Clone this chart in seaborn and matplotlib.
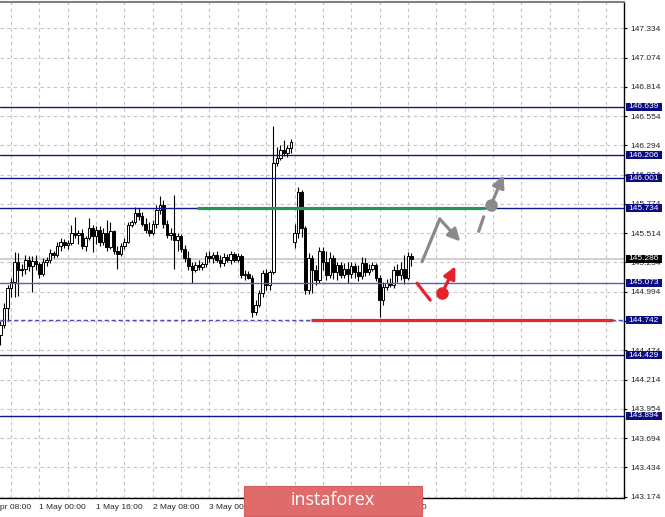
import numpy as np
import pandas as pd
import seaborn as sns
import matplotlib.pyplot as plt
import matplotlib.transforms as mtransforms
from matplotlib.patches import Rectangle

# hourly candles, bar index 0..116
opens = [144.61, 144.70, 144.85, 145.03, 145.08, 145.26, 145.19, 145.20, 145.28, 145.22,
         145.27, 145.24, 145.15, 145.26, 145.28, 145.34, 145.32, 145.40, 145.44, 145.41,
         145.43, 145.52, 145.50, 145.52, 145.40, 145.47, 145.56, 145.49, 145.54, 145.44,
         145.52, 145.39, 145.53, 145.36, 145.33, 145.40, 145.44, 145.59, 145.61, 145.69,
         145.67, 145.60, 145.54, 145.52, 145.60, 145.72, 145.76, 145.60, 145.50, 145.52,
         145.45, 145.49, 145.37, 145.29, 145.22, 145.19, 145.23, 145.21, 145.24, 145.31,
         145.29, 145.32, 145.28, 145.25, 145.30, 145.28, 145.33, 145.28, 145.31, 145.14,
         145.15, 145.12, 144.81, 144.88, 144.98, 145.16, 145.05, 145.17, 146.14, 146.18,
         146.25, 146.23, 146.27, 145.44, 145.52, 145.88, 145.56, 145.01, 145.29, 145.19,
         145.10, 145.36, 145.26, 145.14, 145.29, 145.17, 145.23, 145.14, 145.20, 145.15,
         145.22, 145.17, 145.13, 145.25, 145.17, 145.20, 145.23, 145.12, 144.92, 145.04,
         145.07, 145.05, 145.19, 145.14, 145.20, 145.12, 145.31]
highs = [144.73, 144.89, 145.05, 145.12, 145.35, 145.34, 145.24, 145.32, 145.31, 145.31,
         145.32, 145.26, 145.29, 145.30, 145.37, 145.36, 145.44, 145.47, 145.46, 145.45,
         145.59, 145.66, 145.54, 145.55, 145.49, 145.65, 145.59, 145.58, 145.58, 145.56,
         145.63, 145.61, 145.54, 145.40, 145.43, 145.47, 145.61, 145.63, 145.75, 145.74,
         145.70, 145.65, 145.61, 145.63, 145.76, 145.84, 145.81, 145.63, 145.56, 145.85,
         145.52, 145.51, 145.41, 145.36, 145.26, 145.26, 145.28, 145.26, 145.35, 145.36,
         145.35, 145.36, 145.32, 145.34, 145.33, 145.36, 145.35, 145.34, 145.33, 145.19,
         145.18, 145.14, 144.92, 145.01, 145.19, 145.20, 145.19, 146.47, 146.28, 146.30,
         146.34, 146.30, 146.35, 145.60, 145.92, 145.90, 145.58, 145.34, 145.32, 145.23,
         145.39, 145.39, 145.36, 145.35, 145.32, 145.26, 145.26, 145.25, 145.26, 145.26,
         145.25, 145.23, 145.30, 145.29, 145.24, 145.26, 145.25, 145.14, 145.08, 145.11,
         145.12, 145.22, 145.24, 145.26, 145.32, 145.35, 145.34]
lows = [144.52, 144.67, 144.73, 144.95, 144.95, 144.96, 145.13, 145.15, 145.18, 144.99,
        145.19, 145.12, 145.13, 145.22, 145.25, 145.29, 145.30, 145.36, 145.38, 145.37,
        145.41, 145.47, 145.42, 145.37, 145.36, 145.45, 145.35, 145.42, 145.40, 145.41,
        145.36, 145.37, 145.33, 145.20, 145.31, 145.37, 145.43, 145.57, 145.60, 145.63,
        145.58, 145.52, 145.49, 145.50, 145.56, 145.68, 145.56, 145.47, 145.45, 145.20,
        145.36, 145.35, 145.26, 145.19, 145.07, 145.17, 145.19, 145.19, 145.21, 145.26,
        145.25, 145.26, 145.21, 145.22, 145.26, 145.24, 145.26, 145.26, 145.12, 145.10,
        145.11, 144.77, 144.79, 144.86, 144.95, 145.01, 145.01, 145.15, 146.11, 146.16,
        146.20, 146.19, 146.23, 145.38, 145.47, 145.48, 144.97, 144.97, 144.98, 145.05,
        145.07, 145.19, 145.10, 145.12, 145.11, 145.10, 145.12, 145.12, 145.07, 145.12,
        145.12, 145.09, 145.11, 145.13, 145.14, 145.18, 145.09, 144.77, 144.88, 145.01,
        145.04, 145.03, 145.08, 145.10, 145.06, 145.10, 145.22]
closes = [144.70, 144.85, 145.03, 145.08, 145.26, 145.19, 145.20, 145.28, 145.22, 145.27,
          145.24, 145.15, 145.26, 145.28, 145.34, 145.32, 145.40, 145.44, 145.41, 145.43,
          145.52, 145.50, 145.52, 145.40, 145.47, 145.56, 145.49, 145.54, 145.44, 145.52,
          145.39, 145.53, 145.36, 145.33, 145.40, 145.44, 145.59, 145.61, 145.69, 145.67,
          145.60, 145.54, 145.52, 145.60, 145.72, 145.76, 145.60, 145.50, 145.52, 145.45,
          145.49, 145.37, 145.29, 145.22, 145.19, 145.23, 145.21, 145.24, 145.31, 145.29,
          145.32, 145.28, 145.25, 145.30, 145.28, 145.33, 145.28, 145.31, 145.14, 145.15,
          145.12, 144.81, 144.88, 144.98, 145.16, 145.05, 145.17, 146.14, 146.18, 146.25,
          146.23, 146.27, 146.32, 145.52, 145.88, 145.56, 145.01, 145.29, 145.19, 145.10,
          145.36, 145.26, 145.14, 145.29, 145.17, 145.23, 145.14, 145.20, 145.15, 145.22,
          145.17, 145.13, 145.25, 145.17, 145.20, 145.23, 145.12, 144.92, 145.04, 145.07,
          145.05, 145.19, 145.14, 145.20, 145.12, 145.31, 145.286]

price_ticks = [147.334, 147.074, 146.814, 146.554, 146.294, 146.034, 145.774, 145.514,
               145.254, 144.994, 144.734, 144.474, 144.214, 143.954, 143.694, 143.434, 143.174]
levels = [146.639, 146.206, 146.001, 145.734, 145.073, 144.742, 144.429, 143.894]
last_price = 145.286

date_ticks = [11, 27, 43, 59, 75, 91, 107]
date_labels = ['1 May 00:00', '1 May 16:00', '2 May 08:00', '3 May 00:00',
               '3 May 16:00', '6 May 08:00', '7 May 00:00']
first_date_tick = -5
first_date_label = '30 Apr 08:00'

# drawn objects (bar index, price)
green_x = [55.5, 136.9]
green_price = 145.734
red_x = [87.7, 173.0]
red_price = 144.742
grey_path_x = [119.0, 124.0]
grey_path_y = [145.26, 145.64]
grey_head_x = [124.0, 129.8]
grey_head_y = [145.64, 145.44]
grey_dash_x = [135.0, 136.4]
grey_dash_y = [145.53, 145.66]
grey_dot = (138.5, 145.765)
grey_tip = (142.0, 146.03)
red_stroke_x = [117.6, 121.3]
red_stroke_y = [145.07, 144.92]
red_dot = (124.6, 144.98)
red_tip = (128.4, 145.22)

df = pd.DataFrame({'bar': np.arange(len(opens)), 'open': opens, 'high': highs,
                   'low': lows, 'close': closes})
df['bull'] = df['close'] >= df['open']

sns.set_style("white")
plt.rcParams['font.family'] = ['Liberation Sans', 'DejaVu Sans']

fig = plt.figure(figsize=(6.65, 5.17), dpi=100)
ax = fig.add_axes([0, 19 / 517, 624.3 / 665, 496.3 / 517])

# candles
ax.vlines(df['bar'], df['low'], df['high'], color='black', lw=0.8, zorder=2)
body = (df['close'] - df['open']).abs().clip(lower=0.003)
ax.bar(df['bar'], body, bottom=df[['open', 'close']].min(axis=1), width=0.72,
       color=np.where(df['bull'], 'white', 'black'), edgecolor='black',
       linewidth=0.7, zorder=2.5)

# level lines
level_style = {146.639: ('#14148a', '-'), 146.206: ('#14148a', '-'), 146.001: ('#14148a', '-'),
               145.734: ('#14148a', '-'), 145.073: ('#5a5ac8', '-'), 144.742: ('#4a4ab8', (0, (3, 2))),
               144.429: ('#14148a', '-'), 143.894: ('#14148a', '-')}
for p in levels:
    c, ls = level_style[p]
    ax.axhline(p, color=c, lw=1.0, ls=ls, zorder=3)
ax.axhline(last_price, color='#c8c8c8', lw=1.2, zorder=1.5)

ax.plot(green_x, [green_price] * 2, color='#229a57', lw=2.3, zorder=4, solid_capstyle='butt')
ax.plot(red_x, [red_price] * 2, color='#e8262e', lw=2.3, zorder=4, solid_capstyle='butt')

# forecast arrows
grey = '#8a8a8a'
red = '#e8202a'
sns.lineplot(x=grey_path_x, y=grey_path_y, ax=ax, color=grey, lw=2.3, zorder=5)
ax.annotate('', xy=(grey_head_x[1], grey_head_y[1]), xytext=(grey_head_x[0], grey_head_y[0]),
            arrowprops=dict(arrowstyle='-|>', color=grey, lw=2.3, mutation_scale=18,
                            shrinkA=0, shrinkB=0), zorder=5)
ax.plot(grey_dash_x, grey_dash_y, color=grey, lw=2.3, zorder=5)
ax.plot(*grey_dot, 'o', color=grey, ms=8, zorder=5)
ax.annotate('', xy=grey_tip, xytext=grey_dot,
            arrowprops=dict(arrowstyle='-|>', color=grey, lw=2.3, mutation_scale=18,
                            shrinkA=0, shrinkB=0), zorder=5)
ax.plot(red_stroke_x, red_stroke_y, color=red, lw=2.3, zorder=5)
ax.plot(*red_dot, 'o', color=red, ms=8, zorder=5)
ax.annotate('', xy=red_tip, xytext=red_dot,
            arrowprops=dict(arrowstyle='-|>', color=red, lw=2.3, mutation_scale=18,
                            shrinkA=0, shrinkB=0), zorder=5)

# axes
ax.set_xlim(-0.14, 176.1)
ax.set_ylim(143.162, 147.570)
ax.yaxis.tick_right()
ax.set_yticks(price_ticks, ['%.3f' % p for p in price_ticks])
ax.set_xticks(date_ticks, date_labels)
for lbl in ax.get_xticklabels():
    lbl.set_horizontalalignment('left')
ax.set_xticks(np.arange(3, 177, 8), minor=True)
ax.tick_params(axis='y', length=2.2, pad=2.4, labelsize=6, color='black', width=0.8)
ax.tick_params(axis='x', which='major', length=2.5, pad=2.0, labelsize=6, color='black', width=0.8)
ax.tick_params(axis='x', which='minor', length=0)
ax.set_axisbelow(True)
ax.grid(True, which='both', axis='x', color='#c4c4c4', ls=(0, (3, 3)), lw=0.8)
ax.grid(True, which='major', axis='y', color='#c4c4c4', ls=(0, (3, 3)), lw=0.8)

ax.spines['left'].set_visible(False)
ax.spines['top'].set_color('#808080')
ax.spines['top'].set_linewidth(1.5)
for s in ['right', 'bottom']:
    ax.spines[s].set_color('black')
    ax.spines[s].set_linewidth(1.0)

trans_y = mtransforms.blended_transform_factory(ax.transAxes, ax.transData)
trans_x = mtransforms.blended_transform_factory(ax.transData, ax.transAxes)
ax.text(first_date_tick, -0.0126, first_date_label, transform=trans_x, ha='left', va='top',
        fontsize=6, clip_on=False)

# price labels on the right
box_h = 0.071
for p, fc in [(p, '#0c0c80') for p in levels] + [(last_price, 'black')]:
    ax.add_patch(Rectangle((1.0024, p - box_h / 2), 0.0577, box_h, transform=trans_y,
                           facecolor=fc, edgecolor='none', clip_on=False, zorder=6))
    ax.text(1.0058, p, '%.3f' % p, transform=trans_y, color='white', fontsize=6,
            va='center', ha='left', clip_on=False, zorder=7)

# logo
fig.patches.append(Rectangle((244 / 665, 1 / 517), 178 / 665, 30 / 517, transform=fig.transFigure,
                             facecolor='#e06b6b', edgecolor='#d45e5e', lw=0.8, zorder=10))
fig.text(333 / 665, (517 - 500) / 517, 'instaforex', color='white', fontsize=13,
         family='Open Sans', ha='center', va='center', zorder=11)

fig.savefig('out.png', dpi=100)
